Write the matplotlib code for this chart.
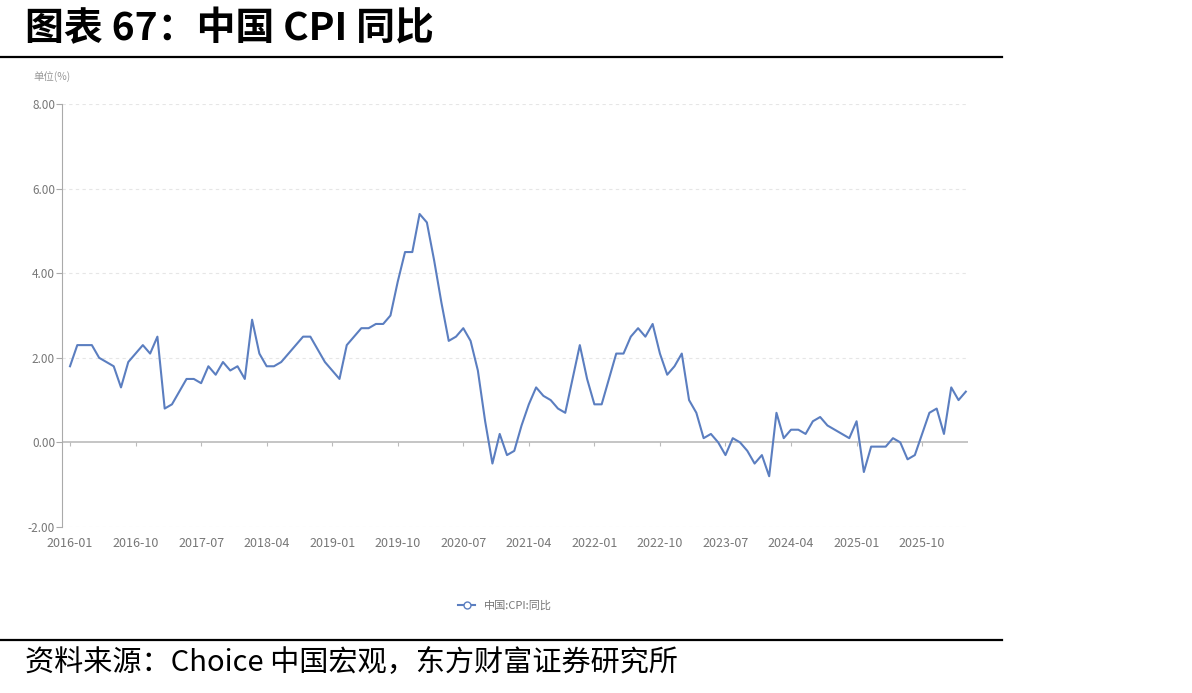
import pandas as pd
import matplotlib.pyplot as plt

plt.rcParams['font.family'] = ['Noto Sans CJK SC', 'DejaVu Sans']

months = pd.period_range('2016-01', '2026-04', freq='M').strftime('%Y-%m').tolist()
cpi_yoy = [
    1.8, 2.3, 2.3, 2.3, 2.0, 1.9, 1.8, 1.3, 1.9, 2.1, 2.3, 2.1,
    2.5, 0.8, 0.9, 1.2, 1.5, 1.5, 1.4, 1.8, 1.6, 1.9, 1.7, 1.8,
    1.5, 2.9, 2.1, 1.8, 1.8, 1.9, 2.1, 2.3, 2.5, 2.5, 2.2, 1.9,
    1.7, 1.5, 2.3, 2.5, 2.7, 2.7, 2.8, 2.8, 3.0, 3.8, 4.5, 4.5,
    5.4, 5.2, 4.3, 3.3, 2.4, 2.5, 2.7, 2.4, 1.7, 0.5, -0.5, 0.2,
    -0.3, -0.2, 0.4, 0.9, 1.3, 1.1, 1.0, 0.8, 0.7, 1.5, 2.3, 1.5,
    0.9, 0.9, 1.5, 2.1, 2.1, 2.5, 2.7, 2.5, 2.8, 2.1, 1.6, 1.8,
    2.1, 1.0, 0.7, 0.1, 0.2, 0.0, -0.3, 0.1, 0.0, -0.2, -0.5, -0.3,
    -0.8, 0.7, 0.1, 0.3, 0.3, 0.2, 0.5, 0.6, 0.4, 0.3, 0.2, 0.1,
    0.5, -0.7, -0.1, -0.1, -0.1, 0.1, 0.0, -0.4, -0.3, 0.2, 0.7, 0.8,
    0.2, 1.3, 1.0, 1.2,
]
y_ticks = [-2, 0, 2, 4, 6, 8]

fig = plt.figure(figsize=(11.92, 6.93), dpi=100)

# title, rules and source line
fig.text(25 / 1192, 1 - 29 / 693, '图表 67：中国 CPI 同比', fontsize=28,
         fontweight='bold', va='center', ha='left')
fig.add_artist(plt.Line2D([0, 1002 / 1192], [1 - 57 / 693] * 2, color='black', lw=1.6))
fig.add_artist(plt.Line2D([0, 1002 / 1192], [1 - 640 / 693] * 2, color='black', lw=1.6))
fig.text(25 / 1192, 1 - 663 / 693, '资料来源：Choice 中国宏观，东方财富证券研究所',
         fontsize=21, va='center', ha='left')
fig.text(33 / 1192, 1 - 77 / 693, '单位(%)', fontsize=7.5, color='#999999',
         va='center', ha='left')

ax = fig.add_axes([62 / 1192, 1 - 527 / 693, 906 / 1192, 423 / 693])
x = list(range(len(months)))
ax.plot(x, cpi_yoy, color='#5b7ec0', lw=1.5, label='中国:CPI:同比')

ax.set_xlim(-1.1, 123.3)
ax.set_ylim(-2, 8)
ax.set_yticks(y_ticks)
ax.set_yticklabels([f'{v:.2f}' for v in y_ticks])
for v in y_ticks:
    if v == 0:
        ax.axhline(v, color='#bbbbbb', lw=1.2, zorder=0)
    else:
        ax.axhline(v, color='#e6e6e6', lw=0.8, ls=(0, (3, 3)), zorder=0)

tick_idx = list(range(0, len(months), 9))
ax.set_xticks(tick_idx)
ax.set_xticklabels([months[i] for i in tick_idx])
ax.tick_params(axis='x', length=0, pad=7, labelsize=9, labelcolor='#777777')
ax.tick_params(axis='y', length=4, width=0.8, color='#aaaaaa', labelsize=8.5,
               labelcolor='#777777', pad=1)

for s in ['top', 'right', 'bottom']:
    ax.spines[s].set_visible(False)
ax.spines['left'].set_color('#aaaaaa')
ax.spines['left'].set_linewidth(0.8)

# small ticks sitting on the zero line
sec = ax.secondary_xaxis(0.2)
sec.set_xticks(tick_idx)
sec.set_xticklabels([])
sec.tick_params(length=3, color='#bbbbbb')
sec.spines['bottom'].set_visible(False)

leg = fig.legend(loc='center', bbox_to_anchor=(505 / 1192, 1 - 606 / 693), frameon=False,
                 fontsize=8, handlelength=1.6)
for h in leg.legend_handles:
    h.set_marker('o')
    h.set_markersize(5)
    h.set_markerfacecolor('white')
for t in leg.get_texts():
    t.set_color('#777777')

fig.savefig('out.png', dpi=100)
